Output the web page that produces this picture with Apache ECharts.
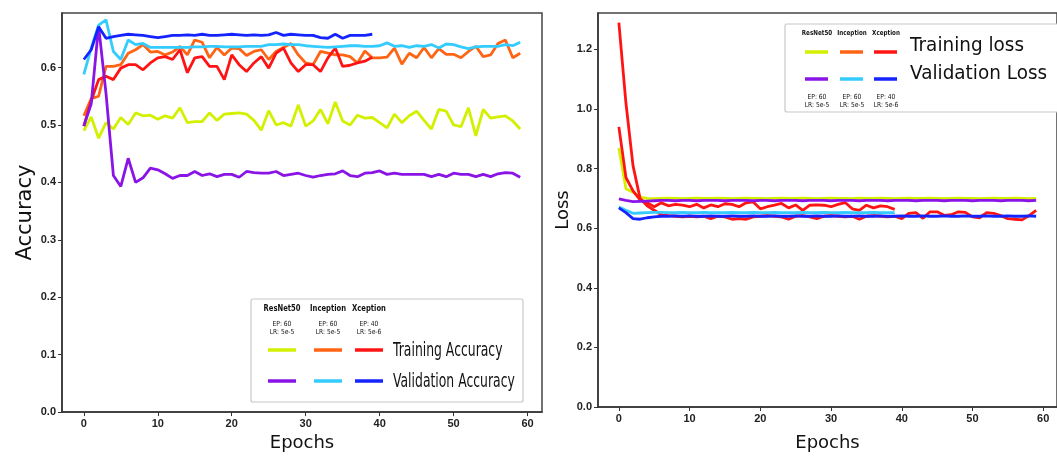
<!DOCTYPE html>
<html>
<head>
<meta charset="utf-8">
<script src="https://cdn.jsdelivr.net/npm/echarts@6/dist/echarts.min.js"></script>
<style>
  html, body { margin: 0; padding: 0; background: #fff; }
  #chart { width: 1057px; height: 457px; }
</style>
</head>
<body>
<div id="chart"></div>
<script>
// tick labels
var epochTicks = [0, 10, 20, 30, 40, 50, 60];
var accTicks = [0, 0.1, 0.2, 0.3, 0.4, 0.5, 0.6];
var lossTicks = [0, 0.2, 0.4, 0.6, 0.8, 1.0, 1.2];

var models = ['ResNet50', 'Inception', 'Xception'];
var modelEP = ['EP: 60', 'EP: 60', 'EP: 40'];
var modelLR = ['LR: 5e-5', 'LR: 5e-5', 'LR: 5e-6'];

// accuracy (left)
var resnetTrainAcc = [0.490,0.514,0.477,0.504,0.493,0.513,0.501,0.521,0.516,0.517,
  0.510,0.516,0.512,0.530,0.504,0.506,0.506,0.521,0.508,0.519,
  0.520,0.521,0.519,0.508,0.491,0.525,0.500,0.504,0.498,0.535,
  0.498,0.507,0.527,0.502,0.540,0.507,0.500,0.517,0.512,0.513,
  0.504,0.495,0.519,0.504,0.516,0.524,0.508,0.493,0.527,0.524,
  0.500,0.497,0.530,0.481,0.527,0.512,0.514,0.516,0.507,0.493];
var resnetValAcc = [0.498,0.537,0.672,0.555,0.412,0.393,0.442,0.400,0.408,0.425,
  0.422,0.415,0.407,0.412,0.412,0.419,0.412,0.415,0.410,0.414,
  0.414,0.409,0.419,0.417,0.416,0.416,0.419,0.412,0.414,0.416,
  0.412,0.409,0.412,0.414,0.415,0.420,0.412,0.410,0.416,0.417,
  0.420,0.414,0.416,0.414,0.414,0.414,0.414,0.410,0.414,0.410,
  0.416,0.414,0.414,0.410,0.414,0.410,0.415,0.417,0.416,0.409];
var inceptionTrainAcc = [0.516,0.546,0.550,0.602,0.602,0.605,0.625,0.631,0.640,0.627,
  0.628,0.622,0.627,0.637,0.622,0.648,0.644,0.617,0.635,0.622,
  0.634,0.633,0.621,0.628,0.631,0.614,0.628,0.635,0.642,0.622,
  0.608,0.605,0.628,0.625,0.622,0.622,0.619,0.608,0.629,0.617,
  0.617,0.618,0.634,0.606,0.625,0.617,0.635,0.617,0.633,0.623,
  0.623,0.617,0.628,0.637,0.619,0.622,0.642,0.648,0.617,0.625];
var inceptionValAcc = [0.588,0.634,0.674,0.683,0.628,0.614,0.648,0.640,0.642,0.635,
  0.635,0.635,0.635,0.635,0.635,0.636,0.636,0.637,0.637,0.636,
  0.636,0.636,0.637,0.637,0.637,0.640,0.640,0.641,0.640,0.640,
  0.638,0.637,0.636,0.635,0.636,0.637,0.638,0.638,0.637,0.637,
  0.638,0.643,0.637,0.638,0.635,0.638,0.637,0.640,0.634,0.641,
  0.640,0.636,0.633,0.636,0.637,0.637,0.637,0.640,0.638,0.644];
var xceptionTrainAcc = [0.498,0.542,0.579,0.585,0.579,0.599,0.605,0.605,0.596,0.608,
  0.617,0.619,0.614,0.631,0.591,0.617,0.619,0.602,0.602,0.579,
  0.622,0.605,0.593,0.608,0.619,0.599,0.625,0.634,0.608,0.593,
  0.605,0.605,0.593,0.617,0.634,0.602,0.604,0.608,0.611,0.618];
var xceptionValAcc = [0.614,0.631,0.671,0.651,0.654,0.656,0.658,0.657,0.656,0.654,
  0.652,0.654,0.656,0.656,0.657,0.656,0.658,0.656,0.656,0.657,
  0.658,0.657,0.656,0.657,0.656,0.657,0.661,0.656,0.658,0.657,
  0.656,0.656,0.652,0.651,0.658,0.651,0.656,0.656,0.656,0.658];

// loss (right)
var resnetTrainLoss = [0.869,0.732,0.721,0.704,0.700,0.699,0.700,0.701,0.700,0.699,
  0.700,0.701,0.700,0.700,0.701,0.700,0.699,0.700,0.701,0.700,
  0.700,0.699,0.700,0.701,0.700,0.700,0.701,0.700,0.699,0.700,
  0.701,0.700,0.700,0.699,0.701,0.700,0.700,0.701,0.700,0.699,
  0.700,0.701,0.700,0.700,0.701,0.700,0.699,0.700,0.701,0.700,
  0.700,0.699,0.700,0.701,0.700,0.700,0.701,0.700,0.699,0.700];
var resnetValLoss = [0.698,0.693,0.689,0.690,0.691,0.692,0.693,0.693,0.692,0.693,
  0.693,0.692,0.693,0.693,0.693,0.692,0.693,0.693,0.693,0.692,
  0.693,0.693,0.692,0.693,0.693,0.693,0.692,0.693,0.693,0.693,
  0.692,0.693,0.693,0.693,0.692,0.693,0.693,0.693,0.692,0.693,
  0.693,0.693,0.692,0.693,0.693,0.693,0.692,0.693,0.693,0.693,
  0.692,0.693,0.693,0.693,0.692,0.693,0.693,0.693,0.692,0.693];
var inceptionTrainLoss = [1.290,1.020,0.810,0.700,0.675,0.660,0.645,0.642,0.640,0.638,
  0.640,0.638,0.640,0.632,0.640,0.638,0.630,0.632,0.630,0.638,
  0.640,0.642,0.640,0.638,0.630,0.640,0.642,0.638,0.632,0.640,
  0.642,0.640,0.638,0.640,0.630,0.640,0.642,0.640,0.638,0.640,
  0.632,0.650,0.652,0.633,0.655,0.655,0.643,0.645,0.655,0.653,
  0.638,0.635,0.652,0.650,0.642,0.632,0.630,0.628,0.642,0.660];
var xceptionTrainLoss = [0.940,0.770,0.725,0.695,0.685,0.672,0.685,0.675,0.680,0.677,
  0.672,0.680,0.668,0.678,0.672,0.682,0.680,0.672,0.685,0.688,
  0.665,0.672,0.677,0.683,0.668,0.678,0.660,0.677,0.678,0.677,
  0.672,0.680,0.686,0.665,0.660,0.677,0.668,0.675,0.672,0.663];
var inceptionValLoss = [0.671,0.660,0.650,0.651,0.652,0.653,0.653,0.652,0.652,0.653,
  0.652,0.652,0.653,0.652,0.652,0.652,0.653,0.652,0.652,0.653,
  0.652,0.652,0.653,0.652,0.652,0.652,0.653,0.652,0.652,0.653,
  0.652,0.652,0.653,0.652,0.652,0.652,0.653,0.652,0.652,0.652];
var xceptionValLoss = [0.668,0.652,0.632,0.630,0.635,0.638,0.640,0.640,0.641,0.640,
  0.641,0.640,0.640,0.641,0.640,0.640,0.641,0.640,0.640,0.641,
  0.640,0.640,0.641,0.640,0.640,0.641,0.640,0.640,0.641,0.640,
  0.640,0.641,0.640,0.640,0.641,0.640,0.640,0.641,0.640,0.640,
  0.641,0.640,0.640,0.641,0.640,0.640,0.641,0.640,0.640,0.641,
  0.640,0.640,0.641,0.640,0.640,0.641,0.640,0.640,0.641,0.640];

var C = {
  resTrain: '#d2f000', incTrain: '#ff6414', xcpTrain: '#ff1414',
  resVal: '#8a14e6', incVal: '#34ccff', xcpVal: '#1424ff'
};

function pts(arr) {
  return arr.map(function (v, i) { return [i, v]; });
}
function line(name, arr, color, idx) {
  return {
    name: name, type: 'line', xAxisIndex: idx, yAxisIndex: idx,
    data: pts(arr), showSymbol: false, smooth: false,
    lineStyle: { color: color, width: 2.8 }, itemStyle: { color: color }
  };
}

var tickFont = { fontFamily: 'Liberation Sans', fontSize: 11, fontWeight: 'bold', color: '#222' };
function xAxis(idx, gap) {
  return {
    type: 'value', gridIndex: idx, min: -2.95, max: 61.95,
    name: 'Epochs', nameLocation: 'middle', nameGap: gap,
    nameTextStyle: { fontFamily: 'DejaVu Sans', fontSize: 18, color: '#111' },
    axisLine: { show: true, onZero: false, lineStyle: { color: '#333', width: 1.5 } },
    axisTick: { show: true, length: 4, lineStyle: { color: '#333' }, customValues: epochTicks },
    axisLabel: Object.assign({ margin: 6, customValues: epochTicks }, tickFont),
    splitLine: { show: false }
  };
}
function yAxis(idx, max, ticks, name, gap, fs) {
  return {
    type: 'value', gridIndex: idx, min: 0, max: max,
    name: name, nameLocation: 'middle', nameGap: gap,
    nameTextStyle: { fontFamily: 'DejaVu Sans', fontSize: fs, color: '#111' },
    axisLine: { show: true, onZero: false, lineStyle: { color: '#333', width: 1.5 } },
    axisTick: { show: true, length: 4, lineStyle: { color: '#333' }, customValues: ticks },
    axisLabel: Object.assign({ margin: 6, customValues: ticks,
      formatter: function (v) { return v.toFixed(1); } }, tickFont),
    splitLine: { show: false }
  };
}

// legend pieces drawn as graphic elements
function txt(x, y, s, size, opt) {
  opt = opt || {};
  return {
    type: 'text', x: x, y: y, scaleX: opt.sx || 1, z: 10,
    style: { text: s, fill: '#111', font: (opt.bold ? 'bold ' : '') + size + 'px "DejaVu Sans"',
      textAlign: opt.align || 'center', textVerticalAlign: 'middle' }
  };
}
function seg(x1, x2, y, color) {
  return { type: 'line', z: 10, shape: { x1: x1, y1: y, x2: x2, y2: y },
    style: { stroke: color, lineWidth: 3.5, lineCap: 'butt' } };
}

var trainCols = [C.resTrain, C.incTrain, C.xcpTrain];
var valCols = [C.resVal, C.incVal, C.xcpVal];
var graphics = [];

// left legend
graphics.push({ type: 'rect', z: 9, shape: { x: 251, y: 299, width: 272, height: 103, r: 2 },
  style: { fill: '#fff', stroke: '#c8c8c8', lineWidth: 1.2 } });
var lcx = [282, 328, 369];
lcx.forEach(function (cx, i) {
  graphics.push(txt(cx, 309, models[i], 8, { bold: true, sx: 0.85 }));
  graphics.push(txt(cx, 324, modelEP[i], 7, { sx: 0.85 }));
  graphics.push(txt(cx, 332, modelLR[i], 7, { sx: 0.85 }));
  graphics.push(seg(cx - 14, cx + 14, 350, trainCols[i]));
  graphics.push(seg(cx - 14, cx + 14, 381, valCols[i]));
});
graphics.push(txt(393, 351, 'Training Accuracy', 20, { align: 'left', sx: 0.62 }));
graphics.push(txt(393, 382, 'Validation Accuracy', 20, { align: 'left', sx: 0.62 }));

// right legend
graphics.push({ type: 'rect', z: 9, shape: { x: 785, y: 24, width: 290, height: 88, r: 2 },
  style: { fill: '#fff', stroke: '#c8c8c8', lineWidth: 1.2 } });
var rcx = [817, 852, 886];
rcx.forEach(function (cx, i) {
  graphics.push(txt(cx, 33, models[i], 7, { bold: true, sx: 0.8 }));
  graphics.push(seg(cx - 12, cx + 11, 52, trainCols[i]));
  graphics.push(seg(cx - 12, cx + 11, 79, valCols[i]));
  graphics.push(txt(cx, 97, modelEP[i], 7, { sx: 0.85 }));
  graphics.push(txt(cx, 105, modelLR[i], 7, { sx: 0.85 }));
});
graphics.push(txt(910, 46, 'Training loss', 20, { align: 'left', sx: 0.92 }));
graphics.push(txt(910, 74, 'Validation Loss', 20, { align: 'left', sx: 0.92 }));

var option = {
  backgroundColor: '#fff',
  animation: false,
  grid: [
    { left: 62, top: 13, width: 480, height: 400, show: true, borderColor: '#444', borderWidth: 1.5 },
    { left: 598, top: 13, width: 467, height: 400, show: true, borderColor: '#444', borderWidth: 1.5 }
  ],
  xAxis: [xAxis(0, 18), xAxis(1, 27)],
  yAxis: [
    yAxis(0, 0.695, accTicks, 'Accuracy', 26, 21),
    yAxis(1, 1.322, lossTicks, 'Loss', 22, 18)
  ],
  series: [
    line('ResNet50 Training Accuracy', resnetTrainAcc, C.resTrain, 0),
    line('Inception Training Accuracy', inceptionTrainAcc, C.incTrain, 0),
    line('Xception Training Accuracy', xceptionTrainAcc, C.xcpTrain, 0),
    line('ResNet50 Validation Accuracy', resnetValAcc, C.resVal, 0),
    line('Inception Validation Accuracy', inceptionValAcc, C.incVal, 0),
    line('Xception Validation Accuracy', xceptionValAcc, C.xcpVal, 0),
    line('ResNet50 Training loss', resnetTrainLoss, C.resTrain, 1),
    line('Inception Training loss', inceptionTrainLoss, C.xcpTrain, 1),
    line('Xception Training loss', xceptionTrainLoss, C.xcpTrain, 1),
    line('ResNet50 Validation Loss', resnetValLoss, C.resVal, 1),
    line('Inception Validation Loss', inceptionValLoss, C.incVal, 1),
    line('Xception Validation Loss', xceptionValLoss, C.xcpVal, 1)
  ],
  graphic: graphics
};

var chart = echarts.init(document.getElementById('chart'), null, { renderer: 'canvas' });
chart.setOption(option);
</script>
</body>
</html>
